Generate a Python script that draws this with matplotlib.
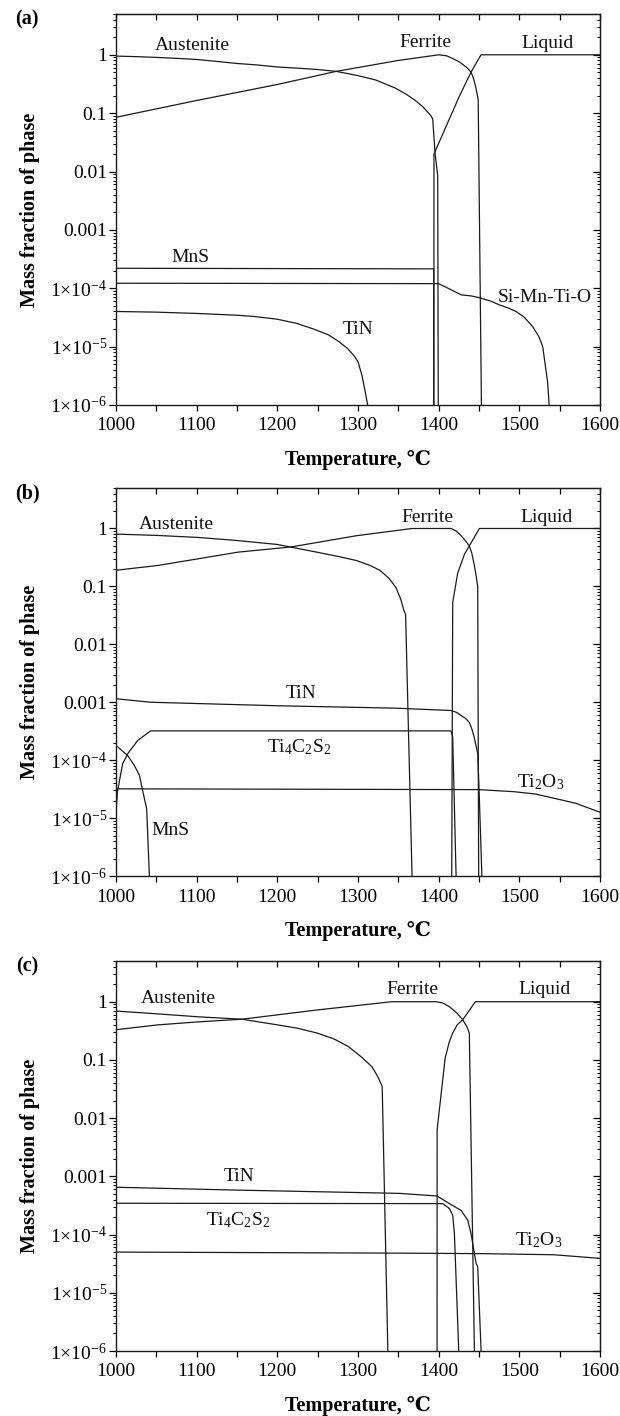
import numpy as np
import matplotlib
matplotlib.use("Agg")
import matplotlib.pyplot as plt
from matplotlib.ticker import LogLocator, FixedLocator, MultipleLocator, NullFormatter, FixedFormatter

plt.rcParams['font.family'] = ['Liberation Serif', 'DejaVu Serif', 'DejaVu Sans']
plt.rcParams['mathtext.fontset'] = 'custom'
plt.rcParams['mathtext.rm'] = 'Liberation Serif'
plt.rcParams['mathtext.it'] = 'Liberation Serif:italic'
plt.rcParams['mathtext.bf'] = 'Liberation Serif:bold'

# ---------------- axis ticks ----------------
X_TICKS = [1000, 1100, 1200, 1300, 1400, 1500, 1600]
X_TICK_LABELS = ['1000', '1100', '1200', '1300', '1400', '1500', '1600']
Y_TICKS = [1e-6, 1e-5, 1e-4, 1e-3, 1e-2, 1e-1, 1]
Y_TICK_LABELS = [r'1×10$^{-6}$', r'1×10$^{-5}$', r'1×10$^{-4}$', '0.001', '0.01', '0.1', '1']

# ---------------- panel (a) ----------------
A_AUS_T = [1000, 1025, 1052, 1075, 1101, 1125, 1150, 1175, 1199, 1225, 1250, 1273, 1300, 1322,
           1346, 1360, 1371, 1380, 1385, 1390, 1392.6, 1395.5, 1398.8, 1399.5]
A_AUS_F = [0.95, 0.93, 0.9, 0.87, 0.83, 0.77, 0.71, 0.67, 0.62, 0.59, 0.56, 0.52, 0.44, 0.37,
           0.27, 0.21, 0.165, 0.13, 0.11, 0.092, 0.08, 0.021, 0.0085, 1e-6]
A_FER_T = [1000, 1100, 1200, 1273, 1350, 1400, 1410, 1417, 1426, 1434, 1440, 1443, 1446, 1449, 1453]
A_FER_F = [0.085, 0.165, 0.31, 0.52, 0.8, 1.0, 0.96, 0.87, 0.75, 0.62, 0.51, 0.4, 0.28, 0.17, 1e-6]
A_LIQ_T = [1394, 1394.2, 1426, 1440, 1452.5, 1600]
A_LIQ_F = [1e-6, 0.02, 0.2, 0.5, 1.0, 1.0]
A_MNS_T = [1000, 1393.8, 1393.9]
A_MNS_F = [2.2e-4, 2.15e-4, 1e-6]
A_SMTO_T = [1000, 1400, 1413, 1428, 1440, 1450.5, 1465, 1475, 1486, 1496, 1506, 1516.5, 1524,
            1529, 1535, 1537]
A_SMTO_F = [1.22e-4, 1.2e-4, 9.8e-5, 7.7e-5, 7.4e-5, 6.9e-5, 6.0e-5, 5.2e-5, 4.6e-5, 4e-5,
            3.2e-5, 2.2e-5, 1.5e-5, 1e-5, 2.5e-6, 1e-6]
A_TIN_T = [1000, 1050, 1101, 1150, 1170, 1200, 1224, 1245, 1263, 1277, 1287, 1295, 1300, 1305,
           1309, 1312]
A_TIN_F = [4.0e-5, 3.9e-5, 3.7e-5, 3.45e-5, 3.3e-5, 2.95e-5, 2.5e-5, 2.0e-5, 1.6e-5, 1.2e-5,
           9.3e-6, 7e-6, 5.5e-6, 3.2e-6, 1.66e-6, 1e-6]
A_LABELS = ['Austenite', 'Ferrite', 'Liquid', 'MnS', 'TiN', 'Si-Mn-Ti-O']
A_LABEL_T = [1094, 1384, 1535, 1092, 1300, 1531]
A_LABEL_F = [1.45, 1.6, 1.57, 3.4e-4, 1.95e-5, 7.0e-5]

# ---------------- panel (b) ----------------
B_AUS_T = [1000, 1050, 1102, 1150, 1200, 1249, 1275, 1298, 1315, 1327, 1338, 1347, 1353, 1357,
           1359, 1367]
B_AUS_F = [0.8, 0.76, 0.7, 0.62, 0.53, 0.39, 0.33, 0.28, 0.23, 0.19, 0.14, 0.096, 0.06, 0.038,
           0.033, 1e-6]
B_FER_T = [1000, 1052, 1102, 1151, 1217, 1298, 1367, 1415.4, 1422, 1427.8, 1433, 1438, 1441,
           1444, 1446.5, 1448.4, 1449.6]
B_FER_F = [0.19, 0.23, 0.3, 0.39, 0.48, 0.75, 1.0, 1.0, 0.9, 0.75, 0.62, 0.5, 0.38, 0.24, 0.15,
           0.10, 1e-6]
B_LIQ_T = [1416.2, 1417.4, 1423.6, 1432, 1438, 1450.5, 1600]
B_LIQ_F = [1e-6, 0.053, 0.17, 0.36, 0.5, 1.0, 1.0]
B_TIN_T = [1000, 1043, 1200, 1347, 1415.4, 1422, 1427.8, 1433, 1438, 1441, 1444, 1448.4, 1450,
           1453.6]
B_TIN_F = [1.15e-3, 1.0e-3, 8.7e-4, 7.9e-4, 7.2e-4, 6.7e-4, 5.9e-4, 5.3e-4, 4.5e-4, 3.5e-4,
           2.5e-4, 1.3e-4, 3.4e-5, 1e-6]
B_TCS_T = [1000, 1002, 1008.3, 1014.5, 1027, 1043, 1415.4, 1417.4, 1421.6]
B_TCS_F = [1.35e-5, 3e-5, 8.7e-5, 1.29e-4, 2.2e-4, 3.2e-4, 3.2e-4, 2.5e-4, 1e-6]
B_MNS_T = [1000, 1014.5, 1022.8, 1029, 1033, 1038, 1041.4]
B_MNS_F = [1.8e-4, 1.2e-4, 8.1e-5, 5.5e-5, 3e-5, 1.45e-5, 1e-6]
B_TIO_T = [1000, 1450, 1494, 1520, 1543, 1570, 1600]
B_TIO_F = [3.2e-5, 3.1e-5, 2.85e-5, 2.6e-5, 2.2e-5, 1.8e-5, 1.26e-5]
B_LABELS = ['Austenite', 'Ferrite', 'Liquid', 'TiN', r'Ti$_4$C$_2$S$_2$', r'Ti$_2$O$_3$', 'MnS']
B_LABEL_T = [1075, 1386, 1534, 1229, 1227, 1526, 1067]
B_LABEL_F = [1.19, 1.55, 1.55, 1.4e-3, 1.67e-4, 4.2e-5, 6.2e-6]

# ---------------- panel (c) ----------------
C_AUS_T = [1000, 1050, 1102, 1156, 1200, 1225, 1249, 1270, 1288, 1305, 1317.5, 1325, 1330, 1337]
C_AUS_F = [0.69, 0.62, 0.55, 0.5, 0.4, 0.35, 0.29, 0.23, 0.17, 0.11, 0.076, 0.05, 0.035, 1e-6]
C_FER_T = [1000, 1052, 1102, 1156, 1249, 1342, 1396.8, 1405, 1413.3, 1422, 1429.8, 1435, 1438,
           1444.3]
C_FER_F = [0.33, 0.4, 0.45, 0.5, 0.72, 1.0, 1.0, 0.95, 0.82, 0.65, 0.49, 0.37, 0.29, 1e-6]
C_LIQ_T = [1398, 1398.1, 1408, 1413, 1417.4, 1423, 1429.8, 1445.5, 1600]
C_LIQ_F = [1e-6, 6.3e-3, 0.107, 0.2, 0.29, 0.4, 0.49, 1.0, 1.0]
C_TIN_T = [1000, 1151, 1351, 1398, 1413.3, 1427.8, 1436, 1440, 1446.4, 1448.4, 1452.6]
C_TIN_F = [6.5e-4, 5.8e-4, 5.1e-4, 4.6e-4, 3.4e-4, 2.6e-4, 1.77e-4, 1.06e-4, 3.2e-5, 2.8e-5, 1e-6]
C_TCS_T = [1000, 1405, 1413.3, 1417.4, 1419.5, 1424.9]
C_TCS_F = [3.45e-4, 3.4e-4, 2.8e-4, 2.15e-4, 1.05e-4, 1e-6]
C_TIO_T = [1000, 1347, 1455, 1543, 1600]
C_TIO_F = [5e-5, 4.8e-5, 4.7e-5, 4.5e-5, 3.9e-5]
C_LABELS = ['Austenite', 'Ferrite', 'Liquid', 'TiN', r'Ti$_4$C$_2$S$_2$', r'Ti$_2$O$_3$']
C_LABEL_T = [1077, 1367, 1531, 1153, 1151, 1524]
C_LABEL_F = [1.14, 1.59, 1.59, 9.8e-4, 1.78e-4, 8e-5]

PANEL_TAGS = ['(a)', '(b)', '(c)']

# ---------------- layout (pixels in 620x1416) ----------------
W, H = 620, 1416
AX_LEFT, AX_RIGHT = 116, 600
AX_TOPS = [14, 488, 961]
AX_BOTS = [405, 876, 1351]
LINE_COLOR = '#1a1a1a'
LW = 0.9

fig = plt.figure(figsize=(W / 100, H / 100), dpi=100)


def make_axes(i):
    top, bot = AX_TOPS[i], AX_BOTS[i]
    ax = fig.add_axes([AX_LEFT / W, 1 - bot / H, (AX_RIGHT - AX_LEFT) / W, (bot - top) / H])
    ax.set_xlim(1000, 1600)
    ax.set_yscale('log')
    ax.set_ylim(1e-6, 5)
    ax.xaxis.set_major_locator(FixedLocator(X_TICKS))
    ax.xaxis.set_major_formatter(FixedFormatter(X_TICK_LABELS))
    ax.xaxis.set_minor_locator(MultipleLocator(50))
    ax.yaxis.set_major_locator(FixedLocator(Y_TICKS))
    ax.yaxis.set_major_formatter(FixedFormatter(Y_TICK_LABELS))
    ax.yaxis.set_minor_locator(LogLocator(base=10, subs=np.arange(2, 10), numticks=30))
    ax.yaxis.set_minor_formatter(NullFormatter())
    ax.tick_params(axis='x', which='both', direction='out', length=4, width=0.9,
                   labelsize=14, pad=5)
    ax.tick_params(axis='y', which='major', direction='out', length=5, width=0.9,
                   labelsize=14, pad=1.5)
    ax.tick_params(axis='y', which='minor', direction='out', length=2.5, width=0.7)
    for sp in ax.spines.values():
        sp.set_linewidth(1.0)
        sp.set_color(LINE_COLOR)

    topx = ax.secondary_xaxis('top')
    topx.xaxis.set_major_locator(FixedLocator(X_TICKS))
    topx.xaxis.set_minor_locator(MultipleLocator(50))
    topx.tick_params(which='both', direction='in', length=4, width=0.9, labeltop=False)
    topx.xaxis.set_minor_formatter(NullFormatter())
    topx.xaxis.set_major_formatter(NullFormatter())

    righty = ax.secondary_yaxis('right')
    righty.yaxis.set_major_locator(FixedLocator(Y_TICKS))
    righty.yaxis.set_minor_locator(LogLocator(base=10, subs=np.arange(2, 10), numticks=30))
    righty.tick_params(which='major', direction='in', length=5, width=0.9, labelright=False)
    righty.tick_params(which='minor', direction='in', length=2.5, width=0.7, labelright=False)
    righty.yaxis.set_major_formatter(NullFormatter())
    righty.yaxis.set_minor_formatter(NullFormatter())

    fig.text(30 / W, 1 - (top + bot) / 2 / H, 'Mass fraction of phase', rotation=90,
             ha='center', va='center', fontsize=14.5, fontweight='bold')
    fig.text((AX_LEFT + AX_RIGHT) / 2 / W, 1 - (bot + 55) / H, 'Temperature, ℃',
             ha='center', va='center', fontsize=14.5, fontweight='bold')
    fig.text(27 / W, 1 - (top + 5) / H, PANEL_TAGS[i], ha='center', va='center',
             fontsize=14.5, fontweight='bold')
    return ax


def curves(ax, pairs):
    for t, f in pairs:
        ax.plot(t, f, color=LINE_COLOR, lw=LW, solid_joinstyle='round')


def labels(ax, names, ts, fs):
    for name, t, f in zip(names, ts, fs):
        ax.text(t, f, name, ha='center', va='center', fontsize=14, color='#111111')


axa = make_axes(0)
curves(axa, [(A_AUS_T, A_AUS_F), (A_FER_T, A_FER_F), (A_LIQ_T, A_LIQ_F),
             (A_MNS_T, A_MNS_F), (A_SMTO_T, A_SMTO_F), (A_TIN_T, A_TIN_F)])
labels(axa, A_LABELS, A_LABEL_T, A_LABEL_F)

axb = make_axes(1)
curves(axb, [(B_AUS_T, B_AUS_F), (B_FER_T, B_FER_F), (B_LIQ_T, B_LIQ_F),
             (B_TIN_T, B_TIN_F), (B_TCS_T, B_TCS_F), (B_MNS_T, B_MNS_F), (B_TIO_T, B_TIO_F)])
labels(axb, B_LABELS, B_LABEL_T, B_LABEL_F)

axc = make_axes(2)
curves(axc, [(C_AUS_T, C_AUS_F), (C_FER_T, C_FER_F), (C_LIQ_T, C_LIQ_F),
             (C_TIN_T, C_TIN_F), (C_TCS_T, C_TCS_F), (C_TIO_T, C_TIO_F)])
labels(axc, C_LABELS, C_LABEL_T, C_LABEL_F)

fig.savefig('out.png', dpi=100)
